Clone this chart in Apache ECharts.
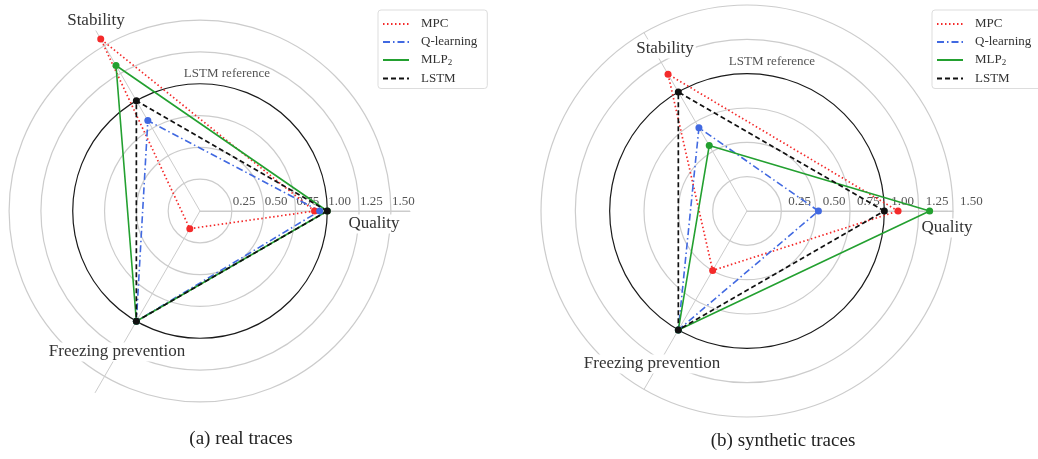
<!DOCTYPE html>
<html lang="en">
<head>
    <meta charset="UTF-8">
    <title>Radar comparison</title>
    <script src="https://cdn.jsdelivr.net/npm/echarts@6/dist/echarts.min.js"></script>
    <style>
        html, body { margin: 0; padding: 0; background: #fff; }
        #chart { width: 1038px; height: 459px; }
    </style>
</head>
<body>
<div id="chart"></div>
<script type="text/javascript">
    // axes of the radar, anticlockwise from the right
    var indicators = ['Quality', 'Stability', 'Freezing prevention'];
    var axisAngles = [0, 120, 240];
    var ringLabels = ['0.25', '0.50', '0.75', '1.00', '1.25', '1.50'];
    var methods = ['MPC', 'Q-learning', 'MLP2', 'LSTM'];

    // (a) real traces: [Quality, Stability, Freezing prevention]
    var realMPC = [0.90, 1.56, 0.16];
    var realQ = [0.94, 0.82, 1.00];
    var realMLP = [1.00, 1.32, 1.00];
    var realLSTM = [1.00, 1.00, 1.00];

    // (b) synthetic traces
    var synMPC = [1.10, 1.15, 0.50];
    var synQ = [0.52, 0.70, 1.00];
    var synMLP = [1.33, 0.55, 1.00];
    var synLSTM = [1.00, 1.00, 1.00];

    var serif = "'Liberation Serif', 'DejaVu Serif', serif";
    var grey = '#cccccc';

    var styles = {
        'MPC': {color: '#f42a2a', type: [1.5, 2.5], width: 1.7},
        'Q-learning': {color: '#4169e1', type: [7, 3, 1.5, 3], width: 1.6},
        'MLP2': {color: '#23a030', type: 'solid', width: 1.6},
        'LSTM': {color: '#111111', type: [5, 3], width: 1.7}
    };

    function closedLoop(values) {
        var pts = values.map(function (v, i) { return [v, axisAngles[i]]; });
        pts.push({value: [values[0], 360], symbol: 'none'});
        return pts;
    }

    function makeSeries(name, values, polarIndex) {
        var s = styles[name];
        return {
            name: name,
            type: 'line',
            coordinateSystem: 'polar',
            polarIndex: polarIndex,
            data: closedLoop(values),
            symbol: 'circle',
            symbolSize: 7,
            itemStyle: {color: s.color},
            lineStyle: {color: s.color, type: s.type, width: s.width},
            animation: false,
            silent: true
        };
    }

    function radiusAxis(idx, max, shift) {
        return {
            polarIndex: idx,
            type: 'value',
            min: 0,
            max: max,
            interval: 0.25,
            axisLine: {show: true, lineStyle: {color: grey, width: 1}},
            axisTick: {show: false},
            axisLabel: {
                show: true,
                margin: 3,
                align: 'left',
                padding: [0, 0, 0, shift],
                color: '#555',
                fontFamily: serif,
                fontSize: 13,
                formatter: function (v) {
                    var i = Math.round(v / 0.25) - 1;
                    return (Math.abs(v / 0.25 - Math.round(v / 0.25)) < 1e-6 && i >= 0 && i < ringLabels.length) ? ringLabels[i] : '';
                }
            },
            splitLine: {
                show: true,
                lineStyle: {
                    color: ['#fff', grey, grey, grey, '#1a1a1a', grey, grey, 'rgba(0,0,0,0)'],
                    width: 1.2
                }
            }
        };
    }

    function angleAxis(idx) {
        return {
            polarIndex: idx,
            type: 'value',
            min: 0,
            max: 360,
            interval: 120,
            startAngle: 0,
            clockwise: false,
            axisLine: {show: false},
            axisTick: {show: false},
            axisLabel: {show: false},
            splitLine: {show: true, lineStyle: {color: grey, width: 1}}
        };
    }

    function legend(left) {
        return {
            orient: 'vertical',
            left: left,
            top: 10,
            data: methods,
            itemWidth: 26,
            itemHeight: 10,
            itemGap: 4,
            padding: [7, 10, 3, 4],
            borderColor: '#dddddd',
            borderWidth: 1,
            borderRadius: 3,
            backgroundColor: '#fff',
            itemStyle: {opacity: 0},
            selectedMode: false,
            textStyle: {
                fontFamily: serif,
                fontSize: 13,
                color: '#333',
                lineHeight: 14,
                padding: [0, 0, 0, 7],
                rich: {sub: {fontFamily: serif, fontSize: 9, color: '#333', padding: [6, 0, 0, 0]}}
            },
            formatter: function (name) {
                return name === 'MLP2' ? 'MLP{sub|2}' : name;
            }
        };
    }

    function label(text, x, y, size, color, bg) {
        return {
            type: 'text',
            x: x,
            y: y,
            z: 50,
            silent: true,
            style: {
                text: text,
                fill: color,
                font: size + 'px ' + serif,
                textAlign: 'center',
                textVerticalAlign: 'middle',
                backgroundColor: bg ? '#fff' : null,
                padding: bg ? [1, 2] : 0
            }
        };
    }

    var chart = echarts.init(document.getElementById('chart'), null, {renderer: 'canvas'});

    var series = [
        makeSeries('MPC', realMPC, 0),
        makeSeries('Q-learning', realQ, 0),
        makeSeries('MLP2', realMLP, 0),
        makeSeries('LSTM', realLSTM, 0),
        makeSeries('MPC', synMPC, 1),
        makeSeries('Q-learning', synQ, 1),
        makeSeries('MLP2', synMLP, 1),
        makeSeries('LSTM', synLSTM, 1)
    ];

    var option = {
        animation: false,
        backgroundColor: '#fff',
        polar: [
            {center: [200, 211], radius: 210},
            {center: [747, 211], radius: 206}
        ],
        radiusAxis: [radiusAxis(0, 1.65, 1), radiusAxis(1, 1.5, 7)],
        angleAxis: [angleAxis(0), angleAxis(1)],
        legend: [legend(378), legend(932)],
        graphic: [
            label(indicators[1], 96, 21, 17, '#333', true),
            label(indicators[0], 374, 224, 17, '#333', true),
            label(indicators[2], 117, 352, 17, '#333', true),
            label('LSTM reference', 227, 74, 13, '#555', false),
            label(indicators[1], 665, 49, 17, '#333', true),
            label(indicators[0], 947, 228, 17, '#333', true),
            label(indicators[2], 652, 364, 17, '#333', true),
            label('LSTM reference', 772, 62, 13, '#555', false),
            label('(a) real traces', 241, 439, 19, '#222', false),
            label('(b) synthetic traces', 783, 441, 19, '#222', false)
        ],
        series: series
    };
    chart.setOption(option);
</script>
</body>
</html>
